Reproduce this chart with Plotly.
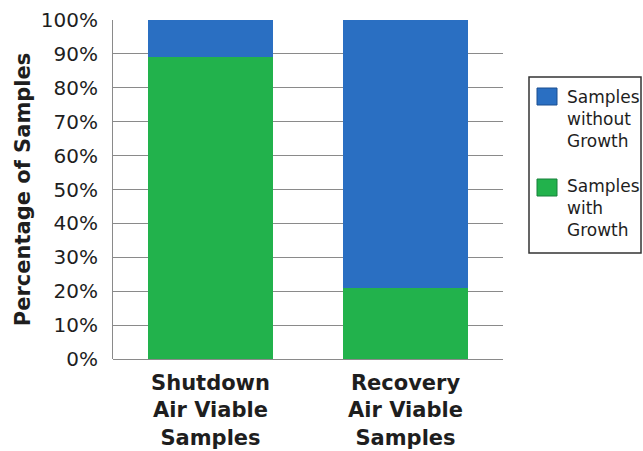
import plotly.graph_objects as go

categories = ["Shutdown<br>Air Viable<br>Samples", "Recovery<br>Air Viable<br>Samples"]
with_growth = [89, 21]
without_growth = [11, 79]
series_names = ["Samples<br>with<br>Growth", "Samples<br>without<br>Growth"]
y_ticks = list(range(0, 101, 10))
y_tick_labels = [f"{v}%" for v in y_ticks]

BLUE = "#2a6fc2"
GREEN = "#22b24c"
FONT = "DejaVu Sans"
TXT = "#1e1e1e"

W, H = 643, 451
L, R, T, B = 113, 503, 20, 359

def px(x):
    return (x - L) / (R - L)

def py(y):
    return (B - y) / (B - T)

fig = go.Figure()
fig.add_trace(go.Bar(x=categories, y=with_growth, marker=dict(color=GREEN, line=dict(width=0)),
                     name="Samples with Growth", showlegend=False))
fig.add_trace(go.Bar(x=categories, y=without_growth, marker=dict(color=BLUE, line=dict(width=0)),
                     name="Samples without Growth", showlegend=False))

shapes = [
    dict(type="rect", xref="paper", yref="paper", x0=px(529), x1=px(641), y0=py(253), y1=py(77),
         line=dict(color="#333333", width=1.5), fillcolor="white"),
    dict(type="rect", xref="paper", yref="paper", x0=px(537), x1=px(557), y0=py(105), y1=py(88),
         line=dict(color="#1a4f90", width=1), fillcolor=BLUE),
    dict(type="rect", xref="paper", yref="paper", x0=px(537), x1=px(557), y0=py(196), y1=py(179),
         line=dict(color="#17803a", width=1), fillcolor=GREEN),
]
annotations = [
    dict(text=series_names[1], xref="paper", yref="paper", x=px(565), y=py(85),
         xanchor="left", yanchor="top", align="left", showarrow=False,
         font=dict(family=FONT, size=17, color=TXT)),
    dict(text=series_names[0], xref="paper", yref="paper", x=px(565), y=py(174),
         xanchor="left", yanchor="top", align="left", showarrow=False,
         font=dict(family=FONT, size=17, color=TXT)),
]

fig.update_layout(
    width=W, height=H,
    margin=dict(l=L, r=W - R, t=T, b=H - B, pad=0, autoexpand=False),
    barmode="stack",
    bargap=0.36,
    plot_bgcolor="white",
    paper_bgcolor="white",
    showlegend=False,
    shapes=shapes,
    annotations=annotations,
    font=dict(family=FONT, color=TXT),
)
fig.update_xaxes(
    automargin=False,
    showgrid=False, showline=False, zeroline=False, ticks="",
    tickfont=dict(family=FONT, size=21, color=TXT, weight="bold"),
    ticklabelstandoff=9,
)
fig.update_yaxes(
    automargin=False,
    range=[0, 100], tickvals=y_ticks, ticktext=y_tick_labels,
    showgrid=True, gridcolor="#8a8a8a", gridwidth=1,
    showline=True, linecolor="#8a8a8a", linewidth=1,
    zeroline=True, zerolinecolor="#8a8a8a", zerolinewidth=1,
    ticks="", ticklabelstandoff=10,
    tickfont=dict(family=FONT, size=20, color=TXT),
    title=dict(text="Percentage of Samples", standoff=4,
               font=dict(family=FONT, size=21, color=TXT, weight="bold")),
)

fig.write_html("out.html")
